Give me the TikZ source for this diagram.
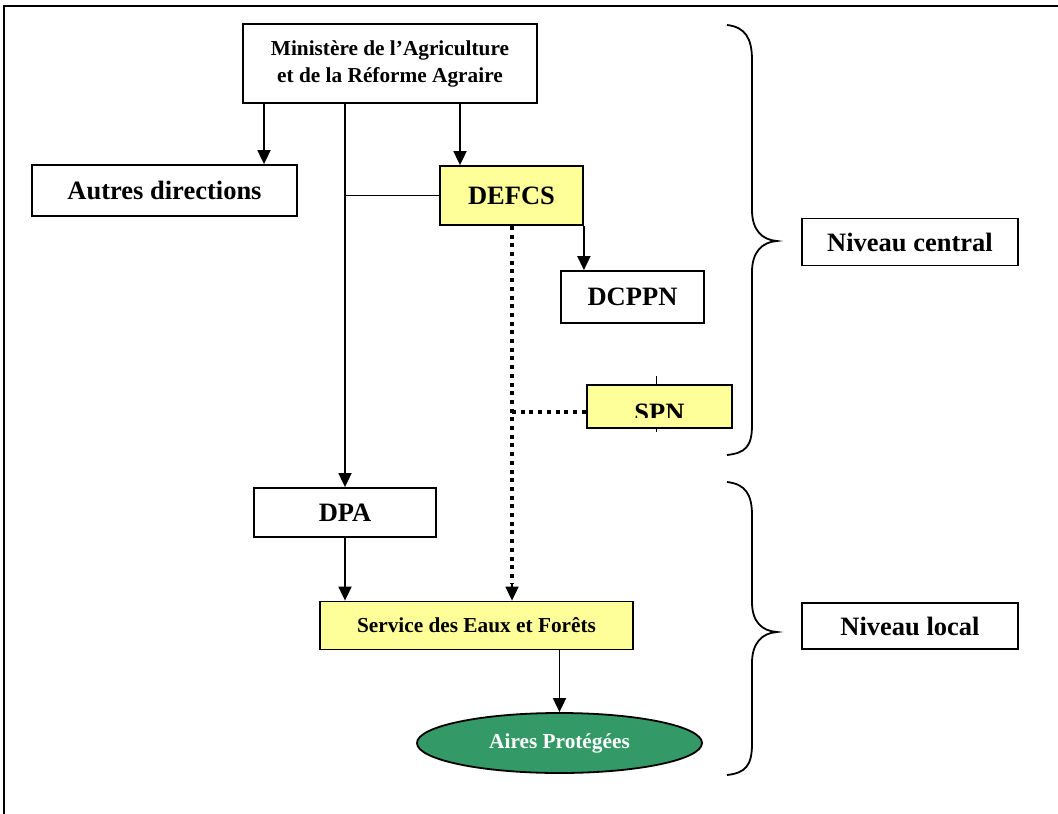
\documentclass[tikz,border=0pt]{standalone}
\usepackage{fontspec}
\setmainfont{Liberation Serif}
\usetikzlibrary{arrows.meta,shapes.geometric}
\definecolor{ylw}{RGB}{255,255,153}
\definecolor{grn}{RGB}{51,153,102}
\begin{document}
\begin{tikzpicture}[x=1pt,y=-1pt,
  box/.style={draw,line width=1.8pt,rectangle,inner sep=0pt,align=center,font=\bfseries\fontsize{26.5}{28}\selectfont},
  ybox/.style={box,fill=ylw},
  smallfont/.style={font=\bfseries\fontsize{21.3}{27}\selectfont},
  arr/.style={line width=1.8pt,-{Triangle[length=14pt,width=13pt]}},
  conn/.style={line width=1.8pt},
  dotl/.style={line width=4pt,dash pattern=on 4pt off 4.7pt},
  brace/.style={line width=1.8pt}]
\useasboundingbox (0,0) rectangle (1058,814);
% frame
\draw[line width=1.8pt] (4,820) -- (4,6) -- (1064,6);

% nodes
\node[box,smallfont,minimum width=294pt,minimum height=79pt] (min) at (390,63.5) {Ministère de l’Agriculture\\et de la Réforme Agraire};
\node[box,minimum width=265pt,minimum height=51pt] (autres) at (164.5,190.5) {Autres directions};
\node[ybox,minimum width=143pt,minimum height=59pt] (defcs) at (511.5,195.5) {DEFCS};
\node[box,minimum width=143pt,minimum height=52pt] (dcppn) at (632.5,297) {DCPPN};
\node[ybox,minimum width=145pt,minimum height=43pt] (spn) at (659.5,406.5) {};
\begin{scope}
  \clip (587,385) rectangle (732,417);
  \node[font=\bfseries\fontsize{26.5}{28}\selectfont,anchor=base,inner sep=0pt] (spntext) at (659.5,421) {SPN};
\end{scope}
\node[box,minimum width=182pt,minimum height=49pt] (dpa) at (345,512.5) {DPA};
\node[ybox,smallfont,minimum width=313pt,minimum height=48pt] (sef) at (476.5,625.5) {Service des Eaux et Forêts};
\node[draw,ellipse,line width=1.8pt,fill=grn,text=white,inner sep=0pt,minimum width=285pt,minimum height=60pt,smallfont] (aires) at (559.5,743) {Aires Protégées};
\node[box,minimum width=216pt,minimum height=47pt] (nc) at (910,242) {Niveau central};
\node[box,minimum width=216pt,minimum height=46pt] (nl) at (910,626) {Niveau local};

% helper coordinates
\coordinate (x1) at (264,0);
\coordinate (x2) at (345,0);
\coordinate (x3) at (460,0);
\coordinate (x4) at (512,0);
\coordinate (d1) at (512,412);
\coordinate (dend) at (512,584);

% connectors
\draw[arr] (min.south -| x1) -- (autres.north -| x1);
\draw[arr] (min.south -| x2) -- (dpa.north);
\draw[conn] (defcs.west) -- (defcs.west -| x2);
\draw[arr] (min.south -| x3) -- (defcs.north -| x3);
\draw[arr] (defcs.south east) -- (dcppn.north -| defcs.south east);
\draw[dotl] (defcs.south -| x4) -- (dend);
\draw[arr] (dend) -- (sef.north -| x4);
\draw[dotl] (d1) -- (d1 -| spn.west);
\draw[arr] (dpa.south) -- (sef.north -| dpa.south);
\draw[arr] (sef.south -| aires.north) -- (aires.north);
% small ticks at SPN
\draw[line width=0.8pt] (656,376) -- (spn.north -| 656,0);
\draw[line width=0.8pt] (spn.south -| 656,0) -- (656,432);

% braces
\draw[brace] (727,25) .. controls (745,27) and (752,38) .. (752,60) -- (752,210)
  .. controls (752,230) and (762,240) .. (777,241)
  .. controls (762,242) and (752,252) .. (752,272) -- (752,425)
  .. controls (752,447) and (745,453) .. (727,455);
\draw[brace] (727,482) .. controls (745,484) and (752,494) .. (752,515) -- (752,602)
  .. controls (752,622) and (762,631) .. (777,632)
  .. controls (762,633) and (752,643) .. (752,663) -- (752,744)
  .. controls (752,766) and (745,773) .. (727,775);
\end{tikzpicture}
\end{document}
